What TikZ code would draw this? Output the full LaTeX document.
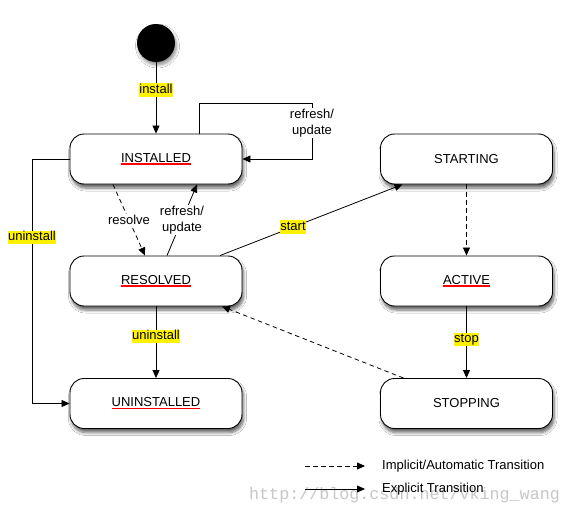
\documentclass[tikz,border=0pt]{standalone}
\usepackage{fontspec}
\setmainfont{Liberation Sans}
\newfontfamily\wmfont{Liberation Mono}
\usetikzlibrary{arrows.meta,shadows.blur,calc}
\newcommand\redul[1]{\setbox0\hbox{#1}\rlap{\color{red}\raisebox{-2.4pt}{\rule{\wd0}{1.3pt}}}\box0}
\begin{document}
\begin{tikzpicture}[x=1pt,y=-1pt,
  txt/.style={font=\fontsize{13}{15.5}\selectfont},
  state/.style={txt, draw, line width=0.9pt, rounded corners=14pt, minimum width=172pt, minimum height=50pt, fill=white,
     blur shadow={shadow xshift=1.5pt, shadow yshift=-4pt, shadow blur steps=6, shadow blur radius=3pt, shadow opacity=60}},
  initst/.style={circle, fill=black, minimum size=38pt, inner sep=0pt,
     blur shadow={shadow xshift=1.5pt, shadow yshift=-3pt, shadow blur steps=6, shadow blur radius=3pt, shadow opacity=45}},
  conn/.style={line width=0.8pt, -{Triangle[length=8pt,width=7pt]}},
  dconn/.style={conn, dash pattern=on 4.5pt off 3.5pt},
  hl/.style={txt, fill=yellow, inner xsep=0.5pt, inner ysep=0.5pt, text height=9.5pt, text depth=2.8pt},
  lbl/.style={txt, fill=white, align=center, inner sep=1.5pt},
  legtxt/.style={txt, anchor=west, inner sep=0pt}
]
\useasboundingbox[fill=white] (0,0) rectangle (571,514);

% watermark
\node[anchor=base west, inner sep=0pt, text=black!22, font=\wmfont\fontsize{16.7}{18}\selectfont] (wm) at (249,499) {http://blog.csdn.net/vking\_wang};

% states
\node[initst] (init) at (156,43) {};
\node[state] (inst) at (156,159) {\redul{INSTALLED}};
\node[state] (res) at (156,281) {\redul{RESOLVED}};
\node[state] (unin) at (156,403.5) {\redul{UNINSTALLED}};
\node[state] (star) at (466.5,159) {STARTING};
\node[state] (act) at (466.5,281) {\redul{ACTIVE}};
\node[state] (stop) at (466.5,403.5) {STOPPING};

% connectors
\draw[conn] (init) -- node[hl, pos=0.39] {install} (inst);

\coordinate (loopTop) at (312,103);
\draw[conn] ([xshift=43pt]inst.north) |- (loopTop)
   -- node[lbl, pos=0.36] {refresh/\\update} (loopTop |- inst.east) -- (inst.east);

\coordinate (uL) at (32,159);
\draw[conn] (inst.west) -- (uL) -- node[hl, pos=0.32] {uninstall} (uL |- unin.west) -- (unin.west);

\draw[dconn] ([xshift=-43pt]inst.south) -- node[lbl, pos=0.5, inner sep=1pt] {resolve} ([xshift=-11pt]res.north);
\draw[conn] ([xshift=11pt]res.north) -- node[lbl, pos=0.5, inner sep=1pt] {refresh/\\update} ([xshift=41pt]inst.south);

\draw[conn] ([xshift=64pt]res.north) -- node[hl, pos=0.4] {start} ([xshift=-64pt]star.south);

\draw[conn] (res) -- node[hl, pos=0.42] {uninstall} (unin);
\draw[dconn] (star) -- (act);
\draw[conn] (act) -- node[hl, pos=0.46] {stop} (stop);
\draw[dconn] ([xshift=-63pt]stop.north) -- ([xshift=66pt]res.south);

% legend
\coordinate (la1) at (305,466);
\coordinate (lb1) at (365,466);
\coordinate (la2) at (305,489);
\coordinate (lb2) at (365,489);
\draw[dconn] (la1) -- (lb1);
\draw[conn] (la2) -- (lb2);
\node[legtxt] (leg1) at (382,466) {Implicit/Automatic Transition};
\node[legtxt] (leg2) at (382,489) {Explicit Transition};
\end{tikzpicture}
\end{document}
